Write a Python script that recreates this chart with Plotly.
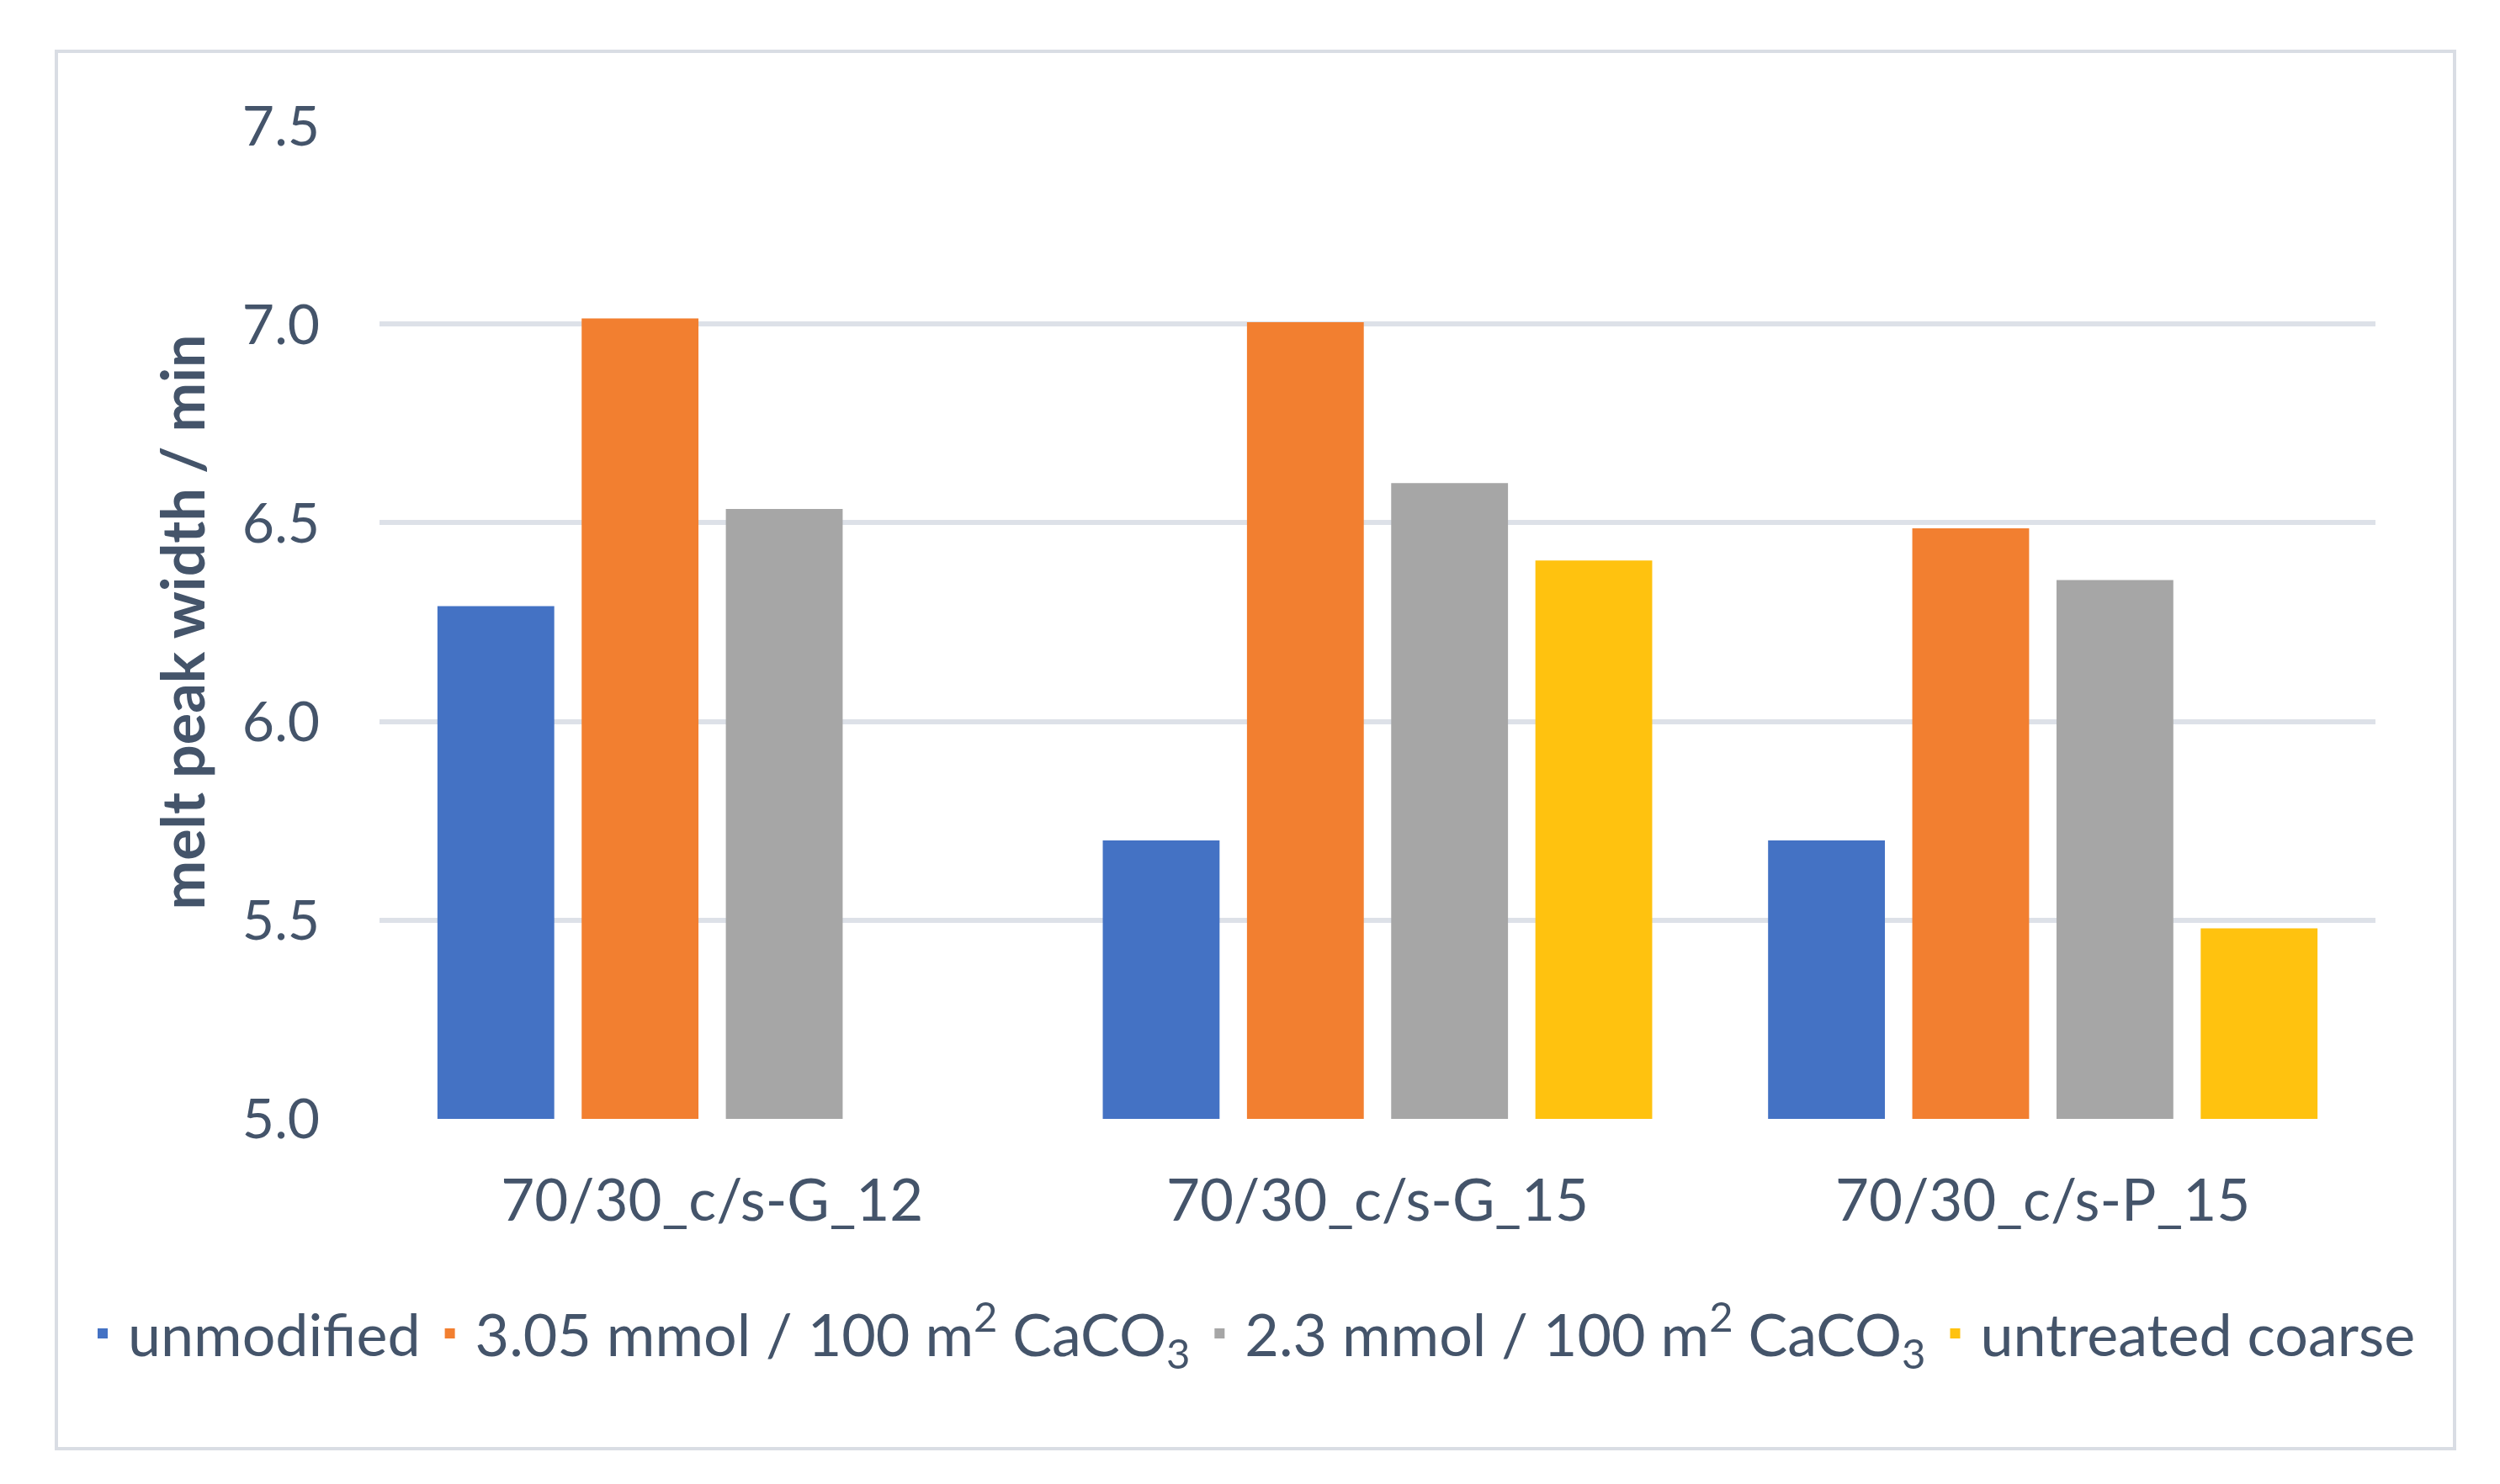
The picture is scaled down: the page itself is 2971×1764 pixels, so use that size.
import plotly.graph_objects as go

categories = ["70/30_c/s-G_12", "70/30_c/s-G_15", "70/30_c/s-P_15"]
series_names = [
    "unmodified",
    "3.05 mmol / 100 m<sup>2</sup> CaCO<sub>3</sub>",
    "2.3 mmol / 100 m<sup>2</sup> CaCO<sub>3</sub>",
    "untreated coarse",
]
unmodified = [6.29, 5.70, 5.70]
mmol_305 = [7.015, 7.005, 6.486]
mmol_23 = [6.535, 6.60, 6.356]
untreated_coarse = [None, 6.405, 5.479]
series_values = [unmodified, mmol_305, mmol_23, untreated_coarse]
colors = ["#4472c4", "#f27f30", "#a6a6a6", "#ffc20f"]
y_ticks = [5.0, 5.5, 6.0, 6.5, 7.0, 7.5]

TEXT = "#44546a"
GRID = "#dde1e8"
FONT = "Lato"

fig = go.Figure()
for name, vals, col in zip(series_names, series_values, colors):
    fig.add_trace(go.Bar(
        x=categories, y=vals, name=name,
        marker=dict(color=col, line=dict(width=0)),
    ))

OFF = 8  # default page body margin
W, H = 2971 - OFF, 1764 - OFF
L = 451 - OFF
R = W - (2823 - OFF)
T = 149 - OFF
B = H - (1330 - OFF)
pw, ph = W - L - R, H - T - B

def px_x(p):
    return (p - OFF - L) / pw

def px_y(p):
    return (H - B - (p - OFF)) / ph

fig.update_layout(
    width=W, height=H,
    margin=dict(l=L, r=R, t=T, b=B),
    paper_bgcolor="white", plot_bgcolor="white",
    barmode="group", bargap=0.133, bargroupgap=0.19,
    font=dict(family=FONT, color=TEXT, size=68),
    showlegend=True,
    legend=dict(
        orientation="h",
        xanchor="left", yanchor="middle",
        x=px_x(92), y=px_y(1585),
        font=dict(family=FONT, size=70, color=TEXT),
        itemwidth=50,
        bgcolor="rgba(0,0,0,0)", itemclick=False,
        traceorder="normal",
    ),
    xaxis=dict(
        type="category", showgrid=False, showline=False, ticks="",
        tickfont=dict(family=FONT, size=69, color=TEXT),
        ticklabelstandoff=51,
    ),
    yaxis=dict(
        range=[4.999, 7.501], tickvals=y_ticks,
        ticktext=[f"{v:.1f}" for v in y_ticks],
        showgrid=True, gridcolor=GRID, gridwidth=6,
        zeroline=False, showline=False, ticks="",
        tickfont=dict(family=FONT, size=66, color=TEXT),
        ticklabelstandoff=70,
        title=dict(text="<b>melt peak width / min</b>",
                   font=dict(family=FONT, size=70, color=TEXT),
                   standoff=21),
    ),
    shapes=[dict(
        type="rect", xref="paper", yref="paper",
        x0=px_x(67), x1=px_x(2917), y0=px_y(1722), y1=px_y(61),
        line=dict(color="#d9dde4", width=4), fillcolor="rgba(0,0,0,0)",
        layer="below",
    )],
)

fig.write_html("out.html")
